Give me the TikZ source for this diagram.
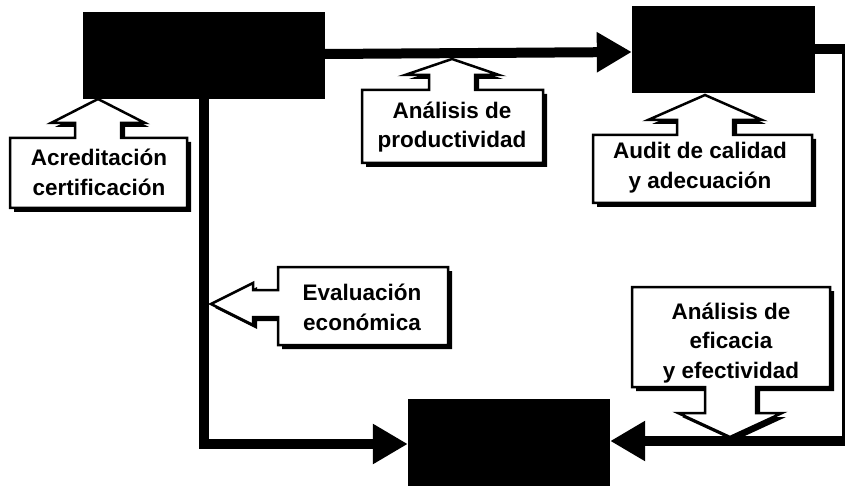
\documentclass[tikz,border=0pt]{standalone}
\usepackage{fontspec}
\setmainfont{Liberation Sans}
\usetikzlibrary{arrows.meta,shadows}
\begin{document}
\begin{tikzpicture}[x=1pt,y=-1pt,
  blk/.style={fill=black, draw=none, inner sep=0pt},
  conn/.style={line width=10pt, line join=miter, -{Triangle[length=35pt,width=38pt]}},
  callout/.style={draw=black, fill=white, line width=2.5pt, line join=miter,
    drop shadow={shadow xshift=4pt, shadow yshift=-4pt, fill=black, opacity=1}},
  lbl/.style={align=center, inner sep=0pt, font=\bfseries\fontsize{22.5}{29.5}\selectfont}]
\useasboundingbox (0,0) rectangle (845,486);
\clip (0,0) rectangle (845,486);
% black boxes
\node[blk, minimum width=242pt, minimum height=87pt] (A) at (204,55.5) {};
\node[blk, minimum width=183pt, minimum height=87pt] (B) at (723.5,49.5) {};
\node[blk, minimum width=202pt, minimum height=90pt] (C) at (509,444) {};
\coordinate (R) at (847,441);
% connectors
\draw[conn] ([yshift=1.5pt]A.east) -- ([yshift=-2.5pt]B.west);
\draw[conn] (B.east) -| (R) -- ([yshift=3pt]C.east);
\draw[conn] (A.south) |- (C.west);
% callouts
\draw[callout] (10,138) -- (75,138) -- (75,123) -- (51,123) -- (98,99) -- (145,123) -- (121,123) -- (121,138) -- (187,138) -- (187,208) -- (10,208) -- cycle;
\node[lbl] (acr) at (99,172.5) {Acreditación\\certificación};
\draw[callout] (362,90) -- (429,90) -- (429,75) -- (405,75) -- (452,59) -- (499,75) -- (475,75) -- (475,90) -- (543,90) -- (543,163) -- (362,163) -- cycle;
\node[lbl] (prod) at (452,127) {Análisis de\\productividad};
\draw[callout] (593,135) -- (677,135) -- (677,120) -- (648,120) -- (705,95) -- (762,120) -- (733,120) -- (733,135) -- (812,135) -- (812,203) -- (593,203) -- cycle;
\node[lbl] (aud) at (700,167.5) {Audit de calidad\\y adecuación};
\draw[callout] (278,267) -- (448,267) -- (448,345) -- (278,345) -- (278,317) -- (253,317) -- (253,325) -- (211,304) -- (253,283) -- (253,290) -- (278,290) -- cycle;
\node[lbl] (eva) at (362,307.5) {Evaluación\\económica};
\draw[callout] (632,287) -- (830,287) -- (830,387) -- (756,387) -- (756,413) -- (782,413) -- (730,437) -- (678,413) -- (705,413) -- (705,387) -- (632,387) -- cycle;
\node[lbl] (efi) at (731,343) {Análisis de\\eficacia\\y efectividad};
\end{tikzpicture}
\end{document}
